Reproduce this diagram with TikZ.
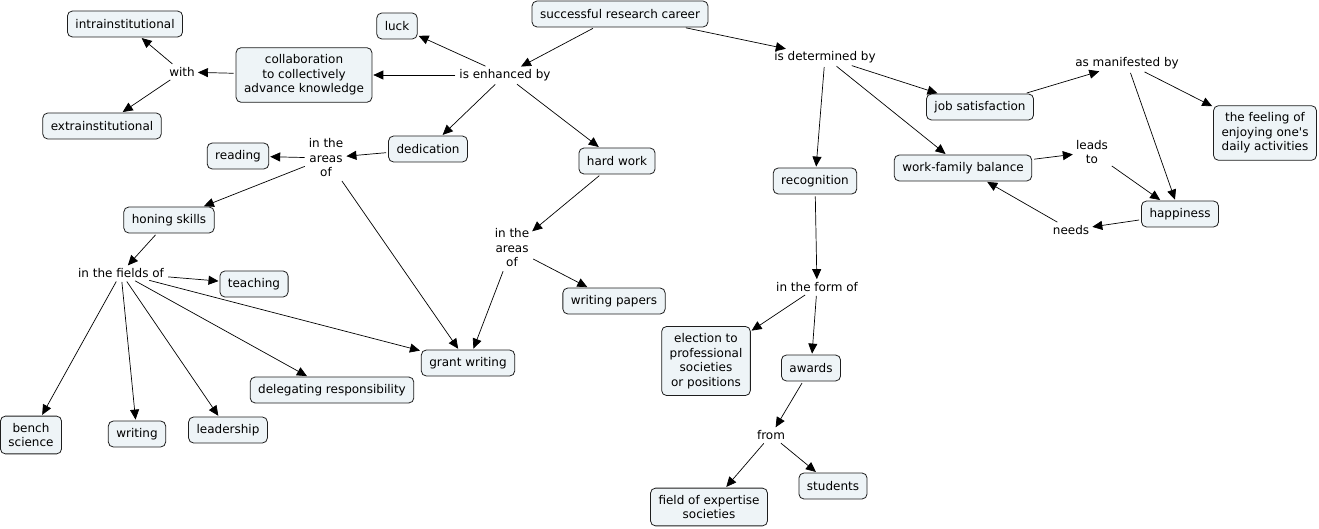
\documentclass[tikz,border=0pt]{standalone}
\usepackage{fontspec}
\newfontfamily\dvfont{DejaVu Sans}
\usetikzlibrary{arrows.meta}
\definecolor{cfill}{RGB}{238,244,247}
\definecolor{cline}{RGB}{30,30,30}
\tikzset{
  concept/.style={draw=cline, fill=cfill, rounded corners=5pt, align=center,
    inner xsep=8pt, inner ysep=7pt, minimum height=26pt, line width=0.8pt,
    font=\dvfont\fontsize{12}{14.5}\selectfont},
  phrase/.style={align=center, inner sep=2pt, font=\dvfont\fontsize{12}{14.5}\selectfont},
  link/.style={draw=black, line width=0.7pt, -{Triangle[length=10pt,width=9pt]}, shorten >=1pt, shorten <=2pt}
}
\begin{document}
\begin{tikzpicture}[x=1pt,y=-1pt]
\useasboundingbox (0,0) rectangle (1319,529);
% concepts
\node[concept] (src) at (620,14) {successful research career};
\node[concept] (luck) at (397,26) {luck};
\node[concept] (intra) at (125,24) {intrainstitutional};
\node[concept] (collab) at (304,75) {collaboration\\to collectively\\advance knowledge};
\node[concept] (extra) at (102,126) {extrainstitutional};
\node[concept] (dedic) at (428,149) {dedication};
\node[concept] (hard) at (617,161) {hard work};
\node[concept] (reading) at (238,156) {reading};
\node[concept] (honing) at (169,220) {honing skills};
\node[concept] (teach) at (254,284) {teaching};
\node[concept] (grant) at (468,363) {grant writing};
\node[concept] (deleg) at (332,390) {delegating responsibility};
\node[concept] (bench) at (31,435) {bench\\science};
\node[concept] (writing) at (137,434) {writing};
\node[concept] (leader) at (228,430) {leadership};
\node[concept] (papers) at (614,301) {writing papers};
\node[concept] (recog) at (815,181) {recognition};
\node[concept] (elect) at (706,361) {election to\\professional\\societies\\or positions};
\node[concept] (awards) at (811,368) {awards};
\node[concept] (field) at (709,507) {field of expertise\\societies};
\node[concept] (students) at (833,486) {students};
\node[concept] (job) at (980,107) {job satisfaction};
\node[concept] (feeling) at (1265,133) {the feeling of\\enjoying one's\\daily activities};
\node[concept] (wfb) at (963,168) {work-family balance};
\node[concept] (happy) at (1180,214) {happiness};
% linking phrases
\node[phrase] (with) at (182,72) {with};
\node[phrase] (enh) at (505,75) {is enhanced by};
\node[phrase] (det) at (825,57) {is determined by};
\node[phrase] (areas1) at (326,158) {in the\\areas\\of};
\node[phrase] (fields) at (121,273) {in the fields of};
\node[phrase] (areas2) at (512,248) {in the\\areas\\of};
\node[phrase] (form) at (817,287) {in the form of};
\node[phrase] (from) at (771,435) {from};
\node[phrase] (manif) at (1127,63) {as manifested by};
\node[phrase] (leads) at (1092,152) {leads\\to};
\node[phrase] (needs) at (1071,230) {needs};
% connectors
\draw[link] (src) -- (enh);
\draw[link] (src) -- (det);
\draw[link] (enh) -- (luck);
\draw[link] (enh) -- (collab);
\draw[link] (enh) -- (dedic);
\draw[link] (enh) -- (hard);
\draw[link] (collab) -- (with);
\draw[link] (with) -- (intra);
\draw[link] (with) -- (extra);
\draw[link] (dedic) -- (areas1);
\draw[link] (areas1) -- (reading);
\draw[link] (areas1) -- (honing);
\draw[link] (areas1) -- (grant);
\draw[link] (honing) -- (fields);
\draw[link] (fields) -- (teach);
\draw[link] (fields) -- (grant);
\draw[link] (fields) -- (deleg);
\draw[link] (fields) -- (leader);
\draw[link] (fields) -- (writing);
\draw[link] (fields) -- (bench);
\draw[link] (hard) -- (areas2);
\draw[link] (areas2) -- (grant);
\draw[link] (areas2) -- (papers);
\draw[link] (det) -- (recog);
\draw[link] (det) -- (job);
\draw[link] (det) -- (wfb);
\draw[link] (recog) -- (form);
\draw[link] (form) -- (elect);
\draw[link] (form) -- (awards);
\draw[link] (awards) -- (from);
\draw[link] (from) -- (field);
\draw[link] (from) -- (students);
\draw[link] (job) -- (manif);
\draw[link] (manif) -- (feeling);
\draw[link] (manif) -- (happy);
\draw[link] (wfb) -- (leads);
\draw[link] (leads) -- (happy);
\draw[link] (happy) -- (needs);
\draw[link] (needs) -- (wfb);
\end{tikzpicture}
\end{document}
